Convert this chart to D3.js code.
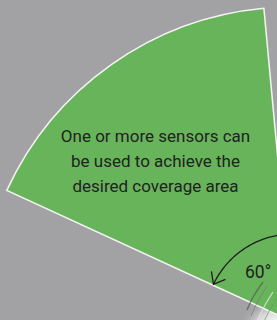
<!DOCTYPE html>
<html lang="en">
<head>
<meta charset="UTF-8">
<title>Sensor coverage</title>
<script src="https://d3js.org/d3.v7.min.js"></script>
<style>
  body { margin: 0; background: #a2a2a4; font-family: Roboto, "Noto Sans", sans-serif; }
  svg { display: block; }
</style>
</head>
<body>
<div id="chart"></div>
<script>
// coverage wedge, degrees clockwise from 12 o'clock
const sectorAngles = [-65.3, -5.3];
const fovLabel = ["60°"];
const captionLines = ["One or more sensors can", "be used to achieve the", "desired coverage area"];

const W = 277, H = 320;
const cx = 293, cy = 322, R = 315;

const svg = d3.select("#chart").append("svg")
    .attr("width", W).attr("height", H);

svg.append("rect").attr("width", W).attr("height", H).attr("fill", "#a2a2a4");

const deg = d3.scaleLinear().domain([0, 360]).range([0, 2 * Math.PI]);

const g = svg.append("g").attr("transform", `translate(${cx},${cy})`);

// sensor body hint in the corner (under the wedge)
const defs = svg.append("defs");
const blob = defs.append("radialGradient").attr("id", "sens")
    .attr("cx", "50%").attr("cy", "50%").attr("r", "50%");
blob.append("stop").attr("offset", "0%").attr("stop-color", "#fafafa");
blob.append("stop").attr("offset", "50%").attr("stop-color", "#dcdcdc");
blob.append("stop").attr("offset", "100%").attr("stop-color", "#a2a2a4").attr("stop-opacity", 0);
g.append("ellipse").attr("cx", -14).attr("cy", 2).attr("rx", 40).attr("ry", 26)
    .attr("fill", "url(#sens)");

// the wedge
g.append("path")
    .attr("d", d3.arc()({ innerRadius: 0, outerRadius: R,
        startAngle: deg(sectorAngles[0]), endAngle: deg(sectorAngles[1]) }))
    .attr("fill", "#68b45b")
    .attr("stroke", "#f4f4f4")
    .attr("stroke-width", 1.5)
    .attr("stroke-linejoin", "miter");

// streaks of the sensor housing
[[-46, -12, -30, -40, "#555", 1.4], [-42, -6, -26, -36, "#777", 1], [-36, 0, -20, -30, "#eee", 1.2],
 [-30, 2, -14, -26, "#5d9f52", 1]].forEach(s => {
  g.append("path")
    .attr("d", d3.line().curve(d3.curveBasis)([[s[0], s[1]], [s[0] + 6, s[1] - 14], [s[2], s[3]]]))
    .attr("fill", "none").attr("stroke", s[4]).attr("stroke-width", s[5]).attr("opacity", 0.7);
});

// angle indicator
const rA = 88;
const a0 = deg(-4), a1 = deg(sectorAngles[0] + 0.6);
const arcPts = d3.range(0, 41).map(i => {
  const a = a0 + (a1 - a0) * i / 40;
  return [rA * Math.sin(a), -rA * Math.cos(a)];
});
g.append("path")
    .attr("d", d3.line()(arcPts))
    .attr("fill", "none").attr("stroke", "#1e1e1e").attr("stroke-width", 1.3);

// open arrow head at the lower end
const tip = arcPts[arcPts.length - 1];
g.append("path")
    .attr("d", d3.line()([[tip[0] - 2, tip[1] - 13], tip, [tip[0] + 12, tip[1] - 5]]))
    .attr("fill", "none").attr("stroke", "#1e1e1e").attr("stroke-width", 1.3);

svg.append("text")
    .attr("x", 245).attr("y", 278)
    .attr("font-size", 17.5).attr("fill", "#222")
    .text(fovLabel[0]);

// caption
svg.append("g").selectAll("text").data(captionLines).join("text")
    .attr("x", 155.5)
    .attr("y", (d, i) => 141.5 + i * 25)
    .attr("text-anchor", "middle")
    .attr("font-size", 17)
    .attr("fill", "#222")
    .text(d => d);
</script>
</body>
</html>
